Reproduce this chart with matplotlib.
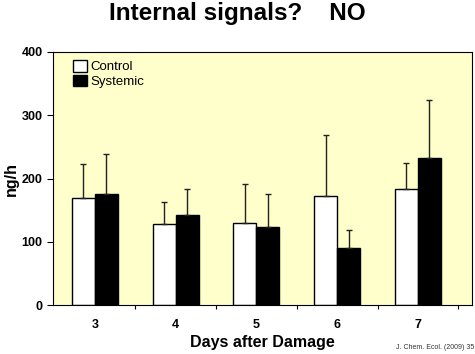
import numpy as np
import matplotlib
matplotlib.use('Agg')
import matplotlib.pyplot as plt

# data
days = ['3', '4', '5', '6', '7']
control = [169, 128, 130, 172, 183]
control_err = [54, 35, 61, 97, 41]
systemic = [175, 142, 123, 90, 233]
systemic_err = [63, 41, 52, 28, 91]

plt.rcParams['font.family'] = ['Liberation Sans', 'DejaVu Sans']

fig = plt.figure(figsize=(4.75, 3.54), dpi=100)
ax = fig.add_axes([53 / 475, 1 - 305 / 354, 419 / 475, 253 / 354])
ax.set_facecolor('#FFFFCC')

x = np.arange(len(days))
w = 0.285
err_kw = dict(ecolor='#222222', elinewidth=1.0, capsize=2, capthick=1.0)
ax.bar(x - w / 2, control, w, color='white', edgecolor='black', linewidth=1.0,
       yerr=[np.zeros(len(days)), control_err], error_kw=err_kw, label='Control')
ax.bar(x + w / 2, systemic, w, color='black', edgecolor='black', linewidth=1.0,
       yerr=[np.zeros(len(days)), systemic_err], error_kw=err_kw, label='Systemic')

ax.set_xlim(-0.52, 4.67)
ax.set_ylim(0, 400)
ax.set_yticks([0, 100, 200, 300, 400])
ax.tick_params(axis='y', direction='out', length=4, labelsize=9)
for t in ax.get_yticklabels():
    t.set_fontweight('bold')

# category labels between boundary ticks
ax.set_xticks(np.arange(len(days)) + 0.5)
ax.set_xticklabels([])
ax.tick_params(axis='x', which='major', direction='out', length=3)
ax.set_xticks(x, minor=True)
ax.set_xticklabels(days, minor=True, fontweight='bold', fontsize=9)
ax.tick_params(axis='x', which='minor', length=0, pad=10)

ax.set_xlabel('Days after Damage', fontsize=11.5, fontweight='bold', labelpad=3)
ax.set_ylabel('ng/h', fontsize=11.5, fontweight='bold', labelpad=2)

leg = ax.legend(loc='upper left', frameon=False, fontsize=9.5, handlelength=1.0,
                handleheight=1.0, handletextpad=0.3, labelspacing=0.1,
                borderaxespad=0.2, bbox_to_anchor=(0.03, 1.0))

fig.text(0.5, 1 - 20 / 354, 'Internal signals?    NO', ha='center', va='baseline',
         fontsize=17.5, fontweight='bold')
fig.text(0.998, 1 - 349 / 354, 'J. Chem. Ecol. (2009) 35', ha='right', va='baseline',
         fontsize=5, color='#333333')

fig.savefig('out.png', dpi=100)
